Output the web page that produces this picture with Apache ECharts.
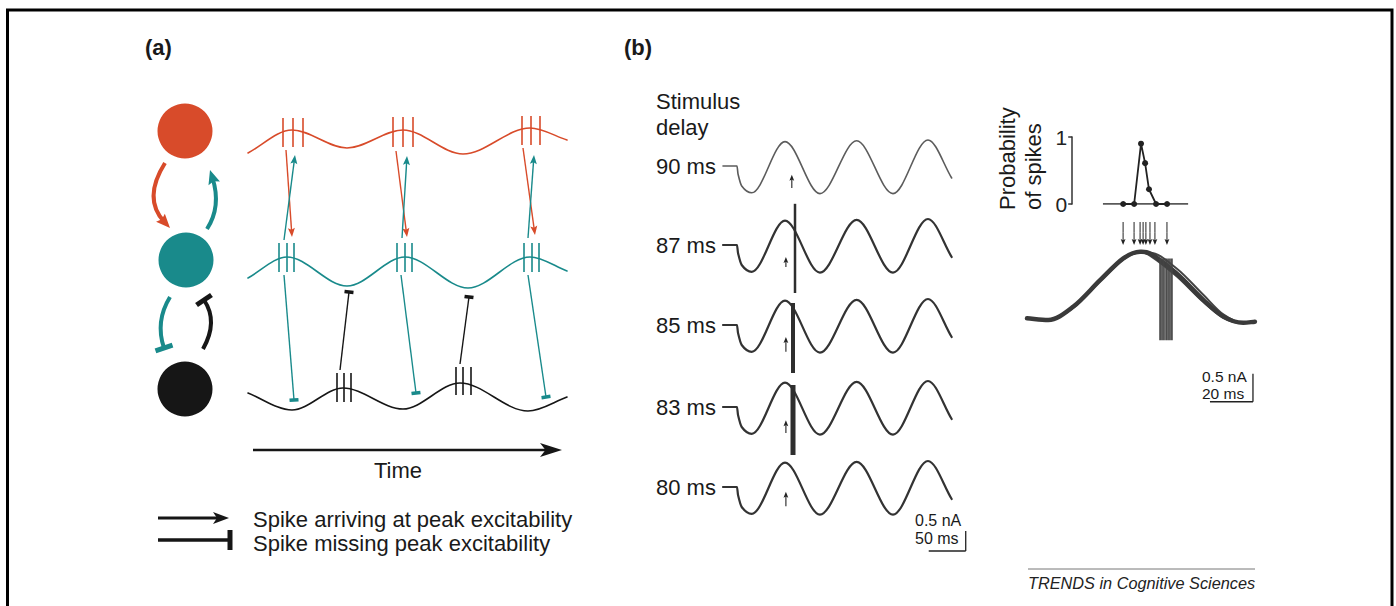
<!DOCTYPE html>
<html>
<head>
<meta charset="utf-8">
<script src="https://cdn.jsdelivr.net/npm/echarts/dist/echarts.min.js"></script>
<style>
html,body{margin:0;padding:0;background:#fff;}
#chart{width:1396px;height:606px;}
</style>
</head>
<body>
<div id="chart"></div>
<script>
// ================= DATA =================
// ---- Panel (a): schematic, x = time (a.u.), y = position (a.u.) ----
const neuronX = [4.5, 4.6, 4.5];
const neuronY = [42.9, 30.0, 17.1];

// oscillation extrema (plus end points)
const redWaveX   = [10.8, 15.2, 20.7, 26.3, 32.3, 39.0, 42.7];
const redWaveY   = [40.7, 43.0, 41.2, 43.0, 40.6, 43.2, 42.0];
const tealWaveX  = [10.8, 14.7, 20.7, 26.5, 32.8, 39.0, 42.7];
const tealWaveY  = [28.2, 30.3, 27.4, 30.3, 27.2, 30.3, 28.9];
const blackWaveX = [10.8, 15.2, 20.3, 26.3, 32.0, 38.8, 42.7];
const blackWaveY = [16.7, 15.0, 17.2, 15.1, 17.7, 14.9, 16.3];

// spike ticks: [x, yTop, yBottom]
const redSpikes = [[14.3,44.2,41.3],[15.3,44.2,41.3],[16.3,44.2,41.3],
                   [25.3,44.3,41.3],[26.3,44.3,41.3],[27.3,44.3,41.3],
                   [38.2,44.4,41.5],[39.1,44.4,41.5],[40.0,44.4,41.5]];
const tealSpikes = [[13.9,31.7,28.8],[14.7,31.7,28.8],[15.4,31.7,28.8],
                    [25.7,31.7,28.8],[26.5,31.7,28.8],[27.2,31.7,28.8],
                    [38.4,31.7,28.8],[39.2,31.7,28.8],[39.9,31.7,28.8]];
const blackSpikes = [[19.7,18.7,15.8],[20.4,18.7,15.8],[21.1,18.7,15.8],
                     [31.6,19.3,16.5],[32.3,19.3,16.5],[33.1,19.3,16.5]];

// connections: [x1,y1,x2,y2]
const redDownArrows  = [[14.6,41.0,15.2,32.3],[25.6,40.9,26.7,32.3],[38.3,41.2,39.5,32.5]];
const tealUpArrows   = [[14.4,32.0,15.5,40.5],[26.2,32.2,26.7,40.4],[38.8,32.2,39.4,40.5]];
const tealDownBars   = [[14.4,28.5,15.4,16.0],[26.1,28.5,27.6,16.7],[38.8,28.5,40.6,16.3]];
const blackUpBars    = [[20.0,19.0,20.9,26.8],[32.0,19.6,32.9,26.3]];
// curved links between neurons: [x1,y1,cx,cy,x2,y2]
const loopRedArrow   = [[2.5,39.7,0.25,36.15,3.0,33.2]];
const loopTealArrow  = [[6.7,33.1,8.15,35.35,7.0,39.0]];
const loopTealBar    = [[3.0,26.3,1.5,23.85,2.4,21.2]];
const loopBlackBar   = [[6.3,21.1,7.85,23.85,6.4,26.0]];
const timeArrow      = [[11.3,11.0,42.2,11.0]];
const legendArrow    = [[1.8,4.2,8.9,4.2]];
const legendBar      = [[1.8,2.0,9.0,2.0]];
const legendTexts    = ['Spike arriving at peak excitability','Spike missing peak excitability'];

// ---- Panel (b) left: membrane current traces (ms, nA) ----
const delayLabels = ['90 ms','87 ms','85 ms','83 ms','80 ms'];
const traceMs = [0, 18.9, 20.3, 25.3, 38.8, 83.8, 131, 180.6, 229.7, 277, 309];
const traceNa = [0, 0, -0.2, -0.5, -0.67, 0.61, -0.69, 0.63, -0.69, 0.65, -0.3];
const stimArrowMs     = [93, 85, 85, 85, 85];
const stimArrowTipNa  = [-0.22, -0.3, -0.3, -0.33, -0.12];
const stimArrowTailNa = [-0.55, -0.55, -0.67, -0.65, -0.48];
const spikeMs       = [null, 97.3, 94.6, 94.6, null];
const spikeTopNa    = [null, 1.03, 0.55, 0.55, null];
const spikeBottomNa = [null, -1.2, -1.2, -1.2, null];
const scaleLeft = {ms: 50, nA: 0.5};

// ---- Panel (b) right ----
const probDelayMs = [44.7, 49.8, 53.0, 54.9, 56.7, 60.0, 65.1];
const probSpike   = [0, 0, 0.9, 0.61, 0.22, 0, 0];
const probBaseMs  = [35.3, 74.9];
const probTicks   = [0, 1];
const bellMs    = [0, 9.9, 21.6, 34, 44.8, 52.6, 57.2, 69.6, 82, 91.3, 100.6, 106];
const bellNaA   = [0.03, 0, 0.24, 0.71, 1.1, 1.22, 1.19, 0.83, 0.36, 0.06, -0.05, -0.03];
const bellNaB   = [0.03, 0, 0.24, 0.71, 1.1, 1.2, 1.2, 0.92, 0.45, 0.1, -0.05, -0.03];
const bellNaC   = [0.03, 0, 0.22, 0.69, 1.08, 1.21, 1.15, 0.78, 0.32, 0.04, -0.06, -0.03];
const bellStimMs = [44.7, 49.8, 52.6, 54.0, 55.3, 57.2, 59.5, 65.1];
const bellStimNa = [1.75, 1.34];
const bellSpikeMs = [61.9, 62.8, 63.7, 64.7, 65.6, 66.5, 67.4];
const bellSpikeNa = [1.1, -0.36];
const scaleRight = {ms: 20, nA: 0.5};

// ================= STYLE / LAYOUT =================
const RED = '#D84B2A', TEAL = '#198A8B', BLK = '#161616';
const FONT = '"Liberation Sans", Arial, Helvetica, sans-serif';
const neuronColors = [RED, TEAL, BLK];
const traceTops = [116, 195, 275, 357, 437];
const traceStyle = [{c:'#5c5c5c', w:1.6}, {c:'#333', w:2.2}, {c:'#333', w:2.2}, {c:'#333', w:2.2}, {c:'#333', w:2.2}];
const spikeWidths = [0, 2.5, 4, 5, 0];

const grids = [{left:140, top:100, width:440, height:460}];
traceTops.forEach(t => grids.push({left:723, top:t, width:236.8, height:100}));
grids.push({left:1072.2, top:137, width:191.4, height:67});
grids.push({left:1027, top:208, width:236.5, height:145.6});
grids.forEach(g => { g.containLabel = false; g.outerBoundsMode = 'none'; g.show = false; });

const xAxes = [], yAxes = [];
function hiddenAxes(gi, xr, yr) {
  xAxes.push({type:'value', gridIndex:gi, min:xr[0], max:xr[1], show:false});
  yAxes.push({type:'value', gridIndex:gi, min:yr[0], max:yr[1], show:false});
}
hiddenAxes(0, [0,44], [0,46]);
for (let k = 1; k <= 5; k++) hiddenAxes(k, [0,320], [-1.25,1.25]);
xAxes.push({type:'value', gridIndex:6, min:21, max:110, show:false});
yAxes.push({type:'value', gridIndex:6, min:probTicks[0], max:probTicks[1], interval:1,
  axisLine:{show:true, lineStyle:{color:'#333', width:1.5}},
  axisTick:{show:true, length:4, lineStyle:{color:'#333', width:1.5}},
  axisLabel:{fontSize:21, fontFamily:FONT, color:'#222', margin:5},
  splitLine:{show:false}});
hiddenAxes(7, [0,110], [-0.6,2.0]);

// straight / quadratic connector with arrow head, T-bar or nothing
function connectorSeries(gi, items, st) {
  return {
    type:'custom', xAxisIndex:gi, yAxisIndex:gi, silent:true, clip:false, z: st.z || 3,
    data: items.map((it, i) => [it[0], it[1], i]),
    renderItem: function (params, api) {
      const it = items[params.dataIndex];
      const p0 = api.coord([it[0], it[1]]);
      let c, p2;
      if (it.length >= 6) { c = api.coord([it[2], it[3]]); p2 = api.coord([it[4], it[5]]); }
      else { p2 = api.coord([it[2], it[3]]); c = [(p0[0]+p2[0])/2, (p0[1]+p2[1])/2]; }
      let dx = p2[0]-c[0], dy = p2[1]-c[1];
      const L0 = Math.hypot(dx, dy) || 1; dx /= L0; dy /= L0;
      const nx = -dy, ny = dx;
      const children = [];
      let end = p2;
      if (st.head === 'arrow') end = [p2[0]-dx*st.headLen*0.6, p2[1]-dy*st.headLen*0.6];
      children.push({type:'bezierCurve',
        shape:{x1:p0[0], y1:p0[1], cpx1:c[0], cpy1:c[1], x2:end[0], y2:end[1]},
        style:{stroke:st.color, lineWidth:st.width, fill:'none', lineCap:'butt'}});
      if (st.head === 'arrow') {
        const bx = p2[0]-dx*st.headLen, by = p2[1]-dy*st.headLen, n = st.notch || 0;
        children.push({type:'polygon', shape:{points:[[p2[0],p2[1]],
          [bx+nx*st.headW, by+ny*st.headW], [bx+dx*st.headLen*n, by+dy*st.headLen*n],
          [bx-nx*st.headW, by-ny*st.headW]]}, style:{fill:st.color}});
      } else if (st.head === 'bar') {
        children.push({type:'line', shape:{x1:p2[0]+nx*st.barW/2, y1:p2[1]+ny*st.barW/2,
          x2:p2[0]-nx*st.barW/2, y2:p2[1]-ny*st.barW/2}, style:{stroke:st.color, lineWidth:st.barT}});
      }
      return {type:'group', children};
    }
  };
}
// smooth curve through data points (flat tangent at extrema, cubic Hermite elsewhere)
function splineSeries(gi, xs, ys, color, width, z) {
  return {
    type:'custom', xAxisIndex:gi, yAxisIndex:gi, silent:true, clip:false, z: z || 2,
    data: [[xs[0], ys[0]]],
    renderItem: function (params, api) {
      const n = xs.length, m = [];
      for (let i = 0; i < n; i++) {
        if (i === 0) m.push((ys[1]-ys[0])/(xs[1]-xs[0]));
        else if (i === n-1) m.push((ys[n-1]-ys[n-2])/(xs[n-1]-xs[n-2]));
        else {
          const a = ys[i]-ys[i-1], b = ys[i+1]-ys[i];
          m.push(a*b <= 0 ? 0 : (ys[i+1]-ys[i-1])/(xs[i+1]-xs[i-1]));
        }
      }
      const f = p => p[0].toFixed(2) + ' ' + p[1].toFixed(2);
      let d = 'M' + f(api.coord([xs[0], ys[0]]));
      for (let i = 0; i < n-1; i++) {
        const h = (xs[i+1]-xs[i])/3;
        d += ' C' + f(api.coord([xs[i]+h, ys[i]+m[i]*h])) + ' ' +
             f(api.coord([xs[i+1]-h, ys[i+1]-m[i+1]*h])) + ' ' + f(api.coord([xs[i+1], ys[i+1]]));
      }
      return {type:'path', shape:{pathData:d},
        style:{stroke:color, lineWidth:width, fill:'none', lineJoin:'round', lineCap:'round'}};
    }
  };
}
function ticks(spk) { return spk.map(s => [s[0], s[1], s[0], s[2]]); }

const series = [];
// ---- panel (a)
series.push({type:'scatter', xAxisIndex:0, yAxisIndex:0, symbolSize:55, silent:true,
  data: neuronX.map((x,i)=>({value:[x, neuronY[i]], itemStyle:{color:neuronColors[i], opacity:1}}))});
series.push(splineSeries(0, redWaveX, redWaveY, RED, 1.6));
series.push(splineSeries(0, tealWaveX, tealWaveY, TEAL, 1.6));
series.push(splineSeries(0, blackWaveX, blackWaveY, BLK, 1.6));
series.push(connectorSeries(0, ticks(redSpikes), {color:RED, width:1.6, head:'none'}));
series.push(connectorSeries(0, ticks(tealSpikes), {color:TEAL, width:1.6, head:'none'}));
series.push(connectorSeries(0, ticks(blackSpikes), {color:BLK, width:1.6, head:'none'}));
series.push(connectorSeries(0, redDownArrows, {color:RED, width:1.4, head:'arrow', headLen:9, headW:3.5, notch:0.2}));
series.push(connectorSeries(0, tealUpArrows, {color:TEAL, width:1.4, head:'arrow', headLen:9, headW:3.5, notch:0.2}));
series.push(connectorSeries(0, tealDownBars, {color:TEAL, width:1.4, head:'bar', barW:9, barT:3.5}));
series.push(connectorSeries(0, blackUpBars, {color:BLK, width:1.4, head:'bar', barW:9, barT:3.5}));
series.push(connectorSeries(0, loopRedArrow, {color:RED, width:4, head:'arrow', headLen:14, headW:6, notch:0.15}));
series.push(connectorSeries(0, loopTealArrow, {color:TEAL, width:4, head:'arrow', headLen:14, headW:6, notch:0.15}));
series.push(connectorSeries(0, loopTealBar, {color:TEAL, width:4, head:'bar', barW:18, barT:5}));
series.push(connectorSeries(0, loopBlackBar, {color:BLK, width:4, head:'bar', barW:18, barT:5}));
series.push(connectorSeries(0, timeArrow, {color:BLK, width:2.5, head:'arrow', headLen:22, headW:7, notch:0.25}));
series.push(connectorSeries(0, legendArrow, {color:BLK, width:3, head:'arrow', headLen:16, headW:6, notch:0.25}));
series.push(connectorSeries(0, legendBar, {color:BLK, width:3.5, head:'bar', barW:20, barT:5}));

// ---- panel (b) traces
for (let k = 0; k < 5; k++) {
  const gi = k + 1, st = traceStyle[k];
  series.push(splineSeries(gi, traceMs, traceNa, st.c, st.w));
  series.push(connectorSeries(gi, [[stimArrowMs[k], stimArrowTailNa[k], stimArrowMs[k], stimArrowTipNa[k]]],
    {color:'#222', width:1.1, head:'arrow', headLen:6, headW:2.4, notch:0.2}));
  if (spikeMs[k] !== null) {
    series.push(connectorSeries(gi, [[spikeMs[k], spikeTopNa[k], spikeMs[k], spikeBottomNa[k]]],
      {color:'#2e2e2e', width:spikeWidths[k], head:'none'}));
  }
}
// left scale bar (anchored in last trace grid)
const sbL = {x:328, y:-1.6};
series.push(connectorSeries(5, [[sbL.x - scaleLeft.ms, sbL.y, sbL.x, sbL.y],[sbL.x, sbL.y, sbL.x, sbL.y + scaleLeft.nA]],
  {color:'#222', width:1.3, head:'none'}));

// ---- panel (b) right
series.push({type:'line', xAxisIndex:6, yAxisIndex:6, data: probBaseMs.map(x=>[x, 0]), showSymbol:false,
  symbol:'none', silent:true, lineStyle:{color:'#222', width:1.3}});
series.push({type:'line', xAxisIndex:6, yAxisIndex:6, data: probDelayMs.map((x,i)=>[x, probSpike[i]]),
  symbol:'circle', symbolSize:6, showSymbol:true, silent:true, z:3,
  itemStyle:{color:'#222', opacity:1}, lineStyle:{color:'#222', width:1.8}});
series.push(splineSeries(7, bellMs, bellNaB, '#444', 2, 2));
series.push(splineSeries(7, bellMs, bellNaC, '#444', 2, 2));
series.push(splineSeries(7, bellMs, bellNaA, '#3a3a3a', 4.5, 3));
series.push(connectorSeries(7, bellSpikeMs.map(x => [x, bellSpikeNa[0], x, bellSpikeNa[1]]),
  {color:'#444', width:1.7, head:'none', z:4}));
series.push(connectorSeries(7, bellStimMs.map(x => [x, bellStimNa[0], x, bellStimNa[1]]),
  {color:'#222', width:1, head:'arrow', headLen:6, headW:2.4, notch:0.2}));
const sbR = {x:105.1, y:-1.46};
series.push(connectorSeries(7, [[sbR.x - scaleRight.ms, sbR.y, sbR.x, sbR.y],[sbR.x, sbR.y, sbR.x, sbR.y + scaleRight.nA]],
  {color:'#222', width:1.3, head:'none'}));

// ---- texts
function txt(text, x, y, size, opts) {
  opts = opts || {};
  return {type:'text', x, y, rotation: opts.rot || 0, silent:true, z:10,
    style:{text, fill: opts.fill || '#1a1a1a', align: opts.align || 'left', verticalAlign:'middle',
      font: (opts.style || 'normal') + ' ' + (opts.weight || 'normal') + ' ' + size + 'px ' + FONT}};
}
const graphic = [
  {type:'polyline', silent:true, shape:{points:[[7.5,606],[7.5,10],[1392,10],[1392,606]]},
    style:{stroke:'#000', lineWidth:3, fill:'none'}},
  txt('(a)', 145, 47, 22, {weight:'bold'}),
  txt('(b)', 624, 47, 22, {weight:'bold'}),
  txt('Time', 398, 470, 22, {align:'center'}),
  txt(legendTexts[0], 253, 519, 22),
  txt(legendTexts[1], 253, 543, 22),
  txt('Stimulus', 656, 101, 22),
  txt('delay', 656, 127, 22),
  txt(scaleLeft.nA + ' nA', 915, 520, 16),
  txt(scaleLeft.ms + ' ms', 915, 538, 16),
  txt('Probability', 1007, 210, 22, {rot: Math.PI/2}),
  txt('of spikes', 1033, 210, 22, {rot: Math.PI/2}),
  txt(scaleRight.nA + ' nA', 1202, 376, 15.5),
  txt(scaleRight.ms + ' ms', 1202, 393, 15.5),
  {type:'line', silent:true, shape:{x1:1028, y1:569, x2:1255, y2:569}, style:{stroke:'#777', lineWidth:1}},
  txt('TRENDS in Cognitive Sciences', 1028, 583, 16.3, {style:'italic', fill:'#222'})
];
delayLabels.forEach((lab, k) => graphic.push(txt(lab, 656, traceTops[k] + 50, 22)));

const chart = echarts.init(document.getElementById('chart'), null, {renderer:'svg'});
chart.setOption({
  backgroundColor:'#fff',
  animation:false,
  grid: grids,
  xAxis: xAxes,
  yAxis: yAxes,
  series: series,
  graphic: graphic
});
</script>
</body>
</html>
